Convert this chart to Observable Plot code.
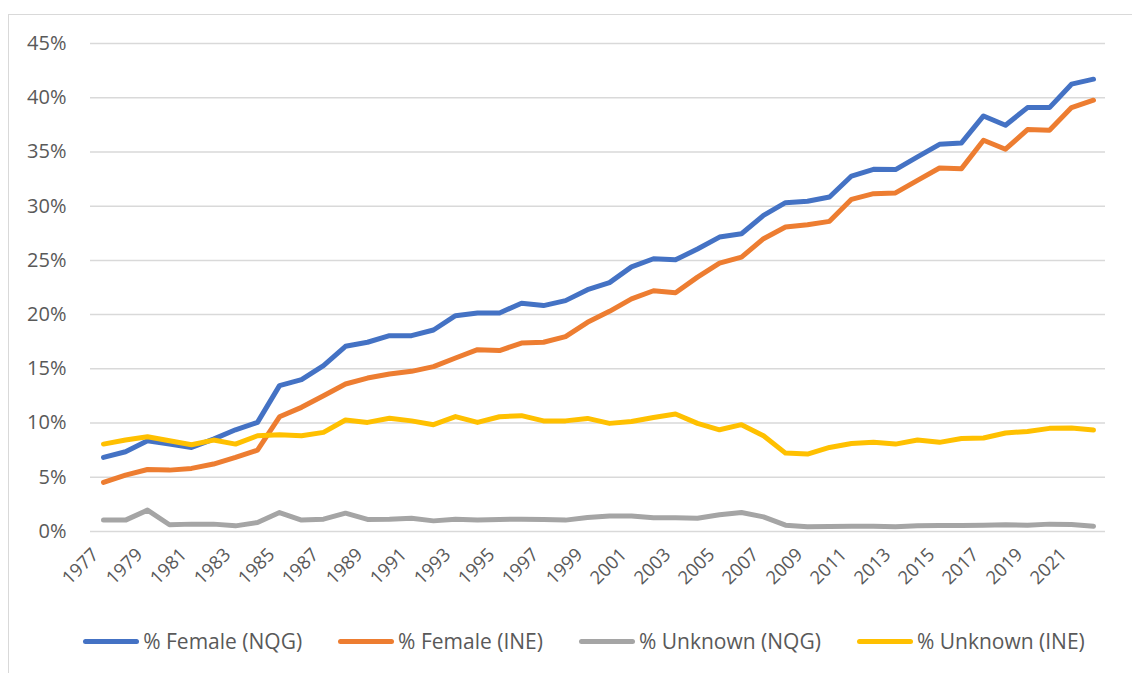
<!DOCTYPE html>
<html>
<head>
<meta charset="utf-8">
<script src="https://cdn.jsdelivr.net/npm/d3@7"></script>
<script src="https://cdn.jsdelivr.net/npm/@observablehq/plot@0.6"></script>
<style>
  html, body { margin: 0; padding: 0; background: #fff; }
  body { width: 1132px; height: 673px; position: relative; overflow: hidden; font-family: "Open Sans", sans-serif; }
  #frame { position: absolute; left: 8px; top: 14px; width: 1200px; height: 800px; border-left: 1.5px solid #d9d9d9; border-top: 1.5px solid #d9d9d9; pointer-events: none; }
  #chart { position: absolute; left: 0; top: 0; }
  #legend { position: absolute; left: 0; top: 600px; width: 1132px; height: 73px; display: flex; justify-content: center; align-items: center; gap: 36px; padding-top: 9px; box-sizing: border-box; padding-left: 36px; }
  .item { display: flex; align-items: center; font-size: 21px; color: #595959; }
  .sw { width: 56px; height: 5px; border-radius: 3px; margin-right: 4px; }
</style>
</head>
<body>
<div id="frame"></div>
<div id="chart"></div>
<div id="legend"></div>
<script>
const years = [1977,1978,1979,1980,1981,1982,1983,1984,1985,1986,1987,1988,1989,1990,1991,1992,1993,1994,1995,1996,1997,1998,1999,2000,2001,2002,2003,2004,2005,2006,2007,2008,2009,2010,2011,2012,2013,2014,2015,2016,2017,2018,2019,2020,2021,2022];

const femaleNQG = [6.83,7.35,8.37,8.06,7.75,8.52,9.38,10.06,13.45,14.0,15.3,17.08,17.45,18.06,
  18.06,18.58,19.9,20.15,20.15,21.05,20.83,21.29,22.3,22.95,24.4,25.15,25.05,26.05,27.15,27.46,
  29.15,30.32,30.45,30.85,32.78,33.4,33.37,34.54,35.7,35.83,38.32,37.46,39.09,39.09,41.25,41.71];
const femaleINE = [4.52,5.2,5.72,5.66,5.82,6.22,6.83,7.5,10.58,11.45,12.52,13.6,14.15,14.52,
  14.77,15.2,16.0,16.77,16.68,17.38,17.45,17.97,19.29,20.3,21.45,22.2,22.02,23.46,24.75,25.3,
  27.0,28.08,28.29,28.6,30.63,31.15,31.22,32.38,33.52,33.46,36.08,35.25,37.06,37.0,39.09,39.77];
const unknownNQG = [1.05,1.05,1.97,0.62,0.68,0.68,0.52,0.83,1.75,1.05,1.14,1.69,1.11,1.14,
  1.23,0.98,1.14,1.05,1.11,1.14,1.11,1.05,1.29,1.42,1.42,1.26,1.26,1.23,1.54,1.75,
  1.35,0.58,0.43,0.46,0.49,0.49,0.43,0.52,0.55,0.55,0.58,0.62,0.58,0.68,0.65,0.49];
const unknownINE = [8.06,8.43,8.74,8.37,8.0,8.43,8.06,8.83,8.92,8.83,9.14,10.28,10.06,10.45,
  10.2,9.85,10.6,10.06,10.58,10.68,10.2,10.2,10.43,9.97,10.15,10.52,10.83,9.97,9.38,9.85,
  8.83,7.23,7.14,7.75,8.12,8.22,8.06,8.43,8.22,8.58,8.62,9.08,9.23,9.51,9.54,9.35];

const seriesNames = ["% Female (NQG)", "% Female (INE)", "% Unknown (NQG)", "% Unknown (INE)"];
const seriesColors = ["#4472C4", "#ED7D31", "#A5A5A5", "#FFC000"];
const seriesValues = [femaleNQG, femaleINE, unknownNQG, unknownINE];

const yTicks = [0,5,10,15,20,25,30,35,40,45];
const xTicks = [1977,1979,1981,1983,1985,1987,1989,1991,1993,1995,1997,1999,2001,2003,2005,2007,2009,2011,2013,2015,2017,2019,2021];

const data = [];
seriesNames.forEach((s, i) => {
  years.forEach((yr, j) => data.push({series: s, year: yr, value: seriesValues[i][j]}));
});

const chart = Plot.plot({
  width: 1132,
  height: 600,
  marginLeft: 90,
  marginRight: 27,
  marginTop: 43,
  marginBottom: 69,
  style: {fontFamily: "Open Sans, sans-serif", fontSize: "20px", color: "#595959", background: "transparent", overflow: "visible"},
  x: {type: "point", domain: years, padding: 0.5, label: null},
  y: {domain: [0, 45], label: null},
  color: {domain: seriesNames, range: seriesColors},
  marks: [
    Plot.gridY(yTicks, {stroke: "#d9d9d9", strokeOpacity: 1, strokeWidth: 1.5}),
    Plot.axisY(yTicks, {tickSize: 0, tickPadding: 24, tickFormat: d => d + "%", fontSize: 20, label: null}),
    Plot.axisX(xTicks, {tickSize: 0, tickPadding: 20, dx: -8, tickRotate: -45, tickFormat: d => String(d), fontSize: 18.5, label: null}),
    Plot.line(data, {x: "year", y: "value", z: "series", stroke: "series", strokeWidth: 5, strokeLinecap: "round", strokeLinejoin: "round"})
  ]
});
document.getElementById("chart").appendChild(chart);

const legend = document.getElementById("legend");
seriesNames.forEach((s, i) => {
  const it = document.createElement("div");
  it.className = "item";
  const sw = document.createElement("div");
  sw.className = "sw";
  sw.style.background = seriesColors[i];
  const tx = document.createElement("span");
  tx.textContent = s;
  it.appendChild(sw);
  it.appendChild(tx);
  legend.appendChild(it);
});
</script>
</body>
</html>
